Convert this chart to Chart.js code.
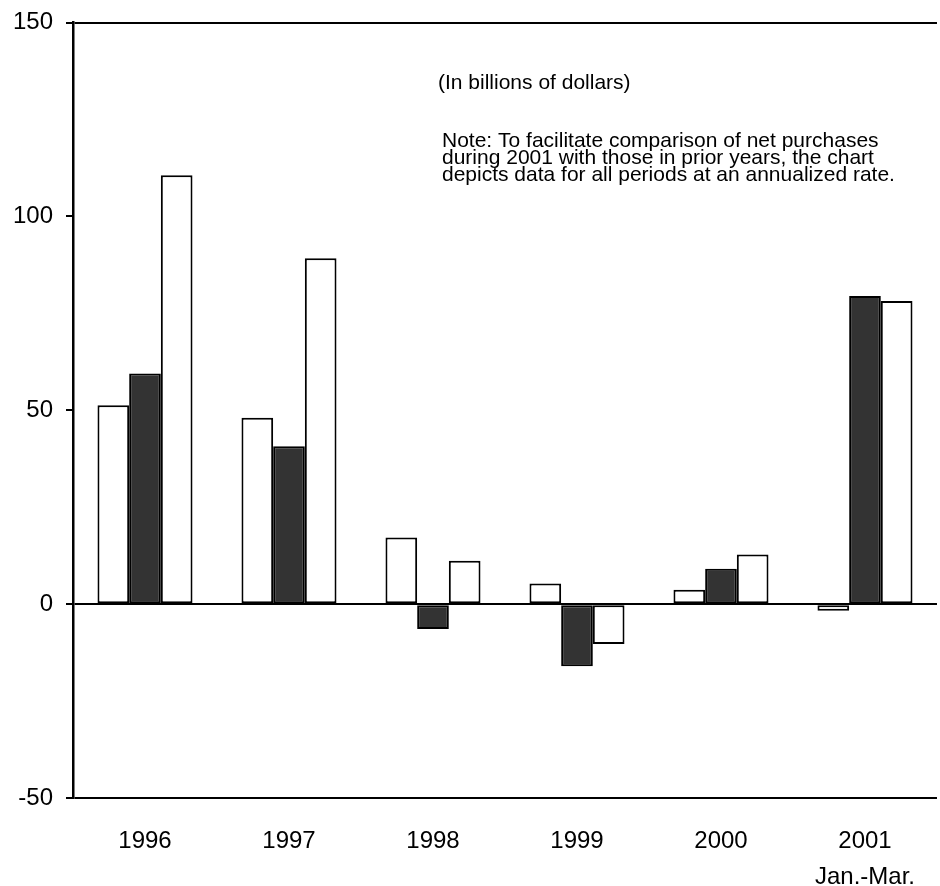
<!DOCTYPE html>
<html>
<head>
<meta charset="utf-8">
<script src="https://cdn.jsdelivr.net/npm/chart.js@4.4.1/dist/chart.umd.min.js"></script>
<style>
  html, body { margin: 0; padding: 0; background: #fff; }
  #wrap { width: 940px; height: 886px; }
</style>
</head>
<body>
<div id="wrap"><canvas id="chart"></canvas></div>
<script>
// chart data (billions of dollars, annualized)
const years = [["1996"], ["1997"], ["1998"], ["1999"], ["2000"], ["2001", "Jan.-Mar."]];
const firstSeries = [51.3, 48.1, 17.2, 5.3, 3.7, -1.7];
const secondSeries = [59.5, 40.7, -6.4, -16, 9.1, 79.5];
const thirdSeries = [110.6, 89.2, 11.2, -10.3, 12.8, 78.2];
const yTicks = [-50, 0, 50, 100, 150];

const unitsNote = "(In billions of dollars)";
const noteLines = [
    "Note: To facilitate comparison of net purchases",
    "during 2001 with those in prior years, the chart",
    "depicts data for all periods at an annualized rate."
];

const FONT = "'Liberation Sans', Arial, sans-serif";

// draws the two text notes inside the plot
const notesPlugin = {
    id: 'notes',
    afterDraw(chart) {
        const ctx = chart.ctx;
        ctx.save();
        ctx.fillStyle = '#000';
        ctx.textBaseline = 'alphabetic';
        ctx.textAlign = 'left';
        ctx.font = '21px ' + FONT;
        ctx.fillText(unitsNote, 438, 89);
        for (var i = 0; i < noteLines.length; i++) {
            ctx.fillText(noteLines[i], 442, 147 + i * 16.8);
        }
        ctx.restore();
    }
};

const barStyle = {
    borderColor: '#000',
    borderWidth: 2,
    borderSkipped: false,
    barPercentage: 1.0,
    categoryPercentage: 0.66
};

const data = {
    labels: years,
    datasets: [
        Object.assign({ label: 'first', data: firstSeries, backgroundColor: '#fff' }, barStyle),
        Object.assign({ label: 'second', data: secondSeries, backgroundColor: '#333' }, barStyle),
        Object.assign({ label: 'third', data: thirdSeries, backgroundColor: '#fff' }, barStyle)
    ]
};

const config = {
    type: 'bar',
    data: data,
    plugins: [notesPlugin],
    options: {
        responsive: true,
        maintainAspectRatio: false,
        animation: false,
        layout: { padding: { top: 22, right: 0, left: 0, bottom: 0 } },
        plugins: {
            legend: { display: false },
            tooltip: { enabled: false }
        },
        scales: {
            x: {
                offset: true,
                grid: { display: false, drawTicks: false },
                border: { display: false },
                ticks: {
                    color: '#000',
                    font: { family: FONT, size: 24, lineHeight: 1.5 },
                    padding: 25,
                    maxRotation: 0,
                    autoSkip: false
                },
                afterFit(scale) { scale.height = 88; }
            },
            y: {
                min: -50,
                max: 150,
                afterBuildTicks(scale) {
                    scale.ticks = yTicks.map(v => ({ value: v }));
                },
                grid: {
                    color: (c) => (c.tick && (c.tick.value === 0 || c.tick.value === -50 || c.tick.value === 150)) ? '#000' : 'rgba(0,0,0,0)',
                    lineWidth: 2,
                    tickColor: '#000',
                    tickLength: 7,
                    drawTicks: true
                },
                border: { display: true, color: '#000', width: 2.5 },
                ticks: {
                    color: '#000',
                    font: { family: FONT, size: 24, lineHeight: 0.8 },
                    padding: 13
                },
                afterFit(scale) { scale.width = 73; }
            }
        }
    }
};

const myChart = new Chart(document.getElementById('chart'), config);
</script>
</body>
</html>
